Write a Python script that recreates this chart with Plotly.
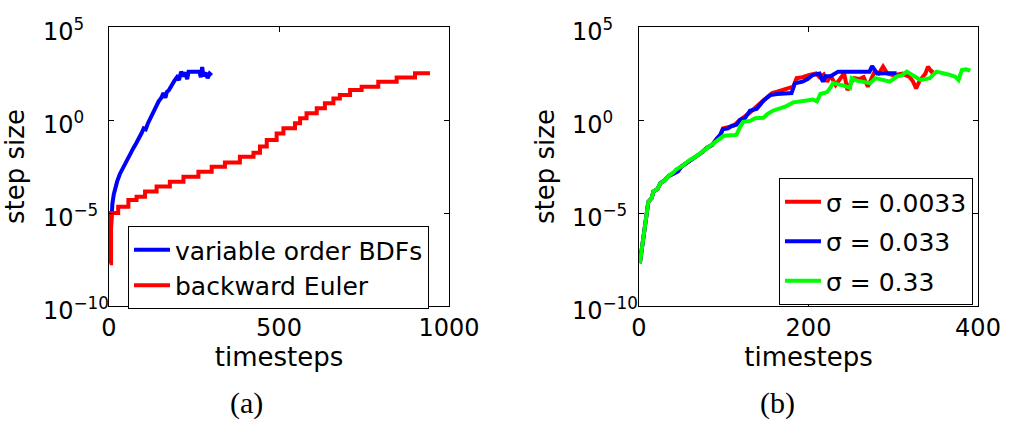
import plotly.graph_objects as go

# ---------------- data ----------------
# (a) variable order BDFs: timestep index and log10(step size)
bdf_steps = [0, 3, 6, 10, 14, 18, 24, 32, 40, 48, 56, 64, 72, 80, 88, 96, 102, 108,
             114, 122, 130, 138, 146, 154, 160, 166, 170, 176, 184, 192, 200, 206,
             212, 218, 224, 230, 234, 250, 266, 270, 274, 278, 284, 290, 296, 302]
bdf_log10_h = [-7.7, -6.5, -5.0, -4.5, -4.0, -3.7, -3.3, -2.9, -2.6, -2.3, -2.05, -1.8,
               -1.5, -1.25, -1.0, -0.7, -0.45, -0.5, -0.2, 0.1, 0.5, 0.7, 1.0, 1.2,
               1.45, 1.2, 1.5, 1.6, 1.9, 2.1, 2.3, 2.15, 2.6, 2.35, 2.55, 2.2, 2.6,
               2.6, 2.6, 2.3, 2.85, 2.35, 2.55, 2.25, 2.5, 2.4]

# (a) backward Euler (staircase)
be_steps = [2, 6, 27, 57, 81, 106, 140, 179, 219, 263, 302, 341, 385, 425, 444, 464,
            493, 513, 547, 562, 581, 611, 635, 660, 679, 709, 743, 792, 846, 900, 944]
be_log10_h = [-7.7, -5.0, -4.66, -4.30, -4.12, -3.85, -3.58, -3.32, -3.05, -2.78, -2.51,
              -2.29, -1.97, -1.76, -1.43, -1.08, -0.72, -0.45, -0.18, 0.09, 0.36, 0.63,
              0.90, 1.16, 1.34, 1.61, 1.79, 2.06, 2.29, 2.51, 2.51]

# (b) sigma = 0.0033
s1_steps = [1, 6, 11, 15, 17, 22, 25, 30, 35, 40, 46, 50, 55, 60, 68, 74, 80, 86, 92,
            96, 99, 105, 112, 119, 125, 131, 138, 145, 151, 157, 163, 170, 176, 182,
            186, 193, 201, 209, 213, 218, 222, 226, 232, 237, 242, 246, 250, 254, 260,
            265, 270, 274, 278, 283, 288, 293, 299, 305, 311, 315, 319, 323, 327, 331,
            335, 338, 341, 345, 347]
s1_log10_h = [-7.7, -6.0, -4.4, -4.2, -3.85, -3.7, -3.4, -3.25, -3.0, -2.9, -2.75, -2.5,
              -2.35, -2.15, -1.95, -1.75, -1.5, -1.35, -1.0, -0.8, -0.45, -0.4, -0.3,
              0.0, 0.2, 0.4, 0.7, 1.0, 1.25, 1.45, 1.52, 1.6, 1.7, 1.79, 2.25, 2.3,
              2.42, 2.5, 2.3, 2.45, 2.06, 2.4, 1.88, 2.2, 2.5, 1.61, 2.0, 2.25, 2.2,
              2.3, 1.79, 2.2, 2.6, 2.5, 2.87, 2.5, 2.42, 2.45, 2.5, 2.4, 2.33, 2.1,
              1.7, 2.1, 2.33, 2.5, 2.87, 2.6, 2.7]

# (b) sigma = 0.033
s2_steps = [1, 6, 11, 15, 17, 22, 25, 30, 35, 40, 46, 50, 55, 60, 68, 74, 80, 86, 92,
            96, 99, 105, 110, 115, 119, 125, 131, 139, 147, 155, 163, 170, 180, 184,
            193, 199, 205, 213, 217, 220, 226, 235, 250, 266, 272, 275, 281, 292, 304]
s2_log10_h = [-7.7, -6.0, -4.4, -4.2, -3.85, -3.7, -3.4, -3.25, -3.0, -2.9, -2.75, -2.5,
              -2.35, -2.15, -1.95, -1.75, -1.5, -1.35, -1.0, -0.8, -0.5, -0.45, -0.3,
              -0.25, 0.0, 0.1, 0.5, 0.6, 1.05, 1.34, 1.4, 1.4, 1.45, 1.98, 2.06, 2.2,
              2.42, 2.5, 2.06, 2.35, 2.35, 2.6, 2.6, 2.6, 2.6, 2.9, 2.5, 2.52, 2.52]

# (b) sigma = 0.33
s3_steps = [1, 6, 11, 15, 17, 22, 25, 30, 35, 40, 44, 50, 55, 60, 66, 72, 78, 84, 90,
            95, 100, 108, 115, 119, 123, 131, 137, 147, 151, 158, 166, 174, 182, 190,
            198, 205, 210, 214, 222, 226, 229, 236, 242, 249, 251, 258, 265, 273, 279,
            288, 296, 304, 310, 316, 324, 332, 338, 343, 351, 358, 365, 373, 377, 381,
            386, 391]
s3_log10_h = [-7.7, -6.0, -4.4, -4.2, -3.85, -3.7, -3.4, -3.25, -3.0, -2.85, -2.65, -2.5,
              -2.3, -2.15, -2.0, -1.8, -1.65, -1.45, -1.2, -1.05, -0.85, -0.82, -0.8,
              -0.4, -0.1, -0.05, 0.1, 0.12, 0.3, 0.5, 0.6, 0.75, 0.95, 0.98, 1.05, 1.1,
              1.0, 1.4, 1.5, 1.75, 1.98, 1.9, 1.85, 1.72, 2.25, 2.1, 2.05, 1.98, 2.25,
              2.15, 2.06, 2.33, 2.4, 2.6, 2.35, 2.15, 2.2, 2.25, 2.6, 2.55, 2.45, 2.33,
              2.15, 2.69, 2.72, 2.65]

y_tick_exponents = [5, 0, -5, -10]
y_tick_labels = ["10<sup>5</sup>", "10<sup>0</sup>", "10<sup>\u22125</sup>", "10<sup>\u221210</sup>"]
xa_ticks = [0, 500, 1000]
xb_ticks = [0, 200, 400]

# ---------------- figure ----------------
W, H = 1013, 421
SANS = "DejaVu Sans, Liberation Sans, Arial, sans-serif"
SERIF = "Liberation Serif, Times New Roman, serif"
LW = 4


def px_x(p):
    return p / W


def px_y(p):
    return 1 - p / H


def to_h(vals):
    return [10 ** v for v in vals]


fig = go.Figure()
fig.add_trace(go.Scatter(x=bdf_steps, y=to_h(bdf_log10_h), mode="lines",
                         name="variable order BDFs", line=dict(color="#0000ff", width=LW),
                         xaxis="x", yaxis="y", legend="legend"))
fig.add_trace(go.Scatter(x=be_steps, y=to_h(be_log10_h), mode="lines", line_shape="hv",
                         name="backward Euler", line=dict(color="#ff0000", width=LW),
                         xaxis="x", yaxis="y", legend="legend"))
fig.add_trace(go.Scatter(x=s1_steps, y=to_h(s1_log10_h), mode="lines",
                         name="\u03c3 = 0.0033", line=dict(color="#ff0000", width=LW),
                         xaxis="x2", yaxis="y2", legend="legend2", legendgroup="g1"))
fig.add_trace(go.Scatter(x=s2_steps, y=to_h(s2_log10_h), mode="lines",
                         name="\u03c3 = 0.033", line=dict(color="#0000ff", width=LW),
                         xaxis="x2", yaxis="y2", legend="legend2", legendgroup="g2"))
fig.add_trace(go.Scatter(x=s3_steps, y=to_h(s3_log10_h), mode="lines",
                         name="\u03c3 = 0.33", line=dict(color="#00ff00", width=LW),
                         xaxis="x2", yaxis="y2", legend="legend2", legendgroup="g3"))

ydom = [px_y(306), px_y(27)]
common_x = dict(showline=True, linecolor="black", linewidth=1, mirror="ticks",
                ticks="inside", ticklen=5, tickwidth=1, tickcolor="black",
                showgrid=False, zeroline=False, automargin=False,
                tickfont=dict(family=SANS, size=24, color="black"))
common_y = dict(type="log", range=[-10, 5], showline=True, linecolor="black", linewidth=1,
                mirror="ticks", ticks="inside", ticklen=5, tickwidth=1, tickcolor="black",
                showgrid=False, zeroline=False, showticklabels=False, automargin=False,
                tickvals=[10 ** e for e in y_tick_exponents], domain=ydom)

title_font = dict(family=SANS, size=26, color="black")
fig.update_layout(
    template="none",
    width=W, height=H, margin=dict(l=0, r=0, t=0, b=0, autoexpand=False),
    paper_bgcolor="white", plot_bgcolor="white", showlegend=True,
    xaxis=dict(domain=[px_x(109), px_x(449)], range=[0, 1000], tickvals=xa_ticks,
               anchor="y", title=dict(text="timesteps", font=title_font, standoff=2),
               **common_x),
    yaxis=dict(anchor="x", title=dict(text="step size", font=title_font, standoff=75),
               **common_y),
    xaxis2=dict(domain=[px_x(639), px_x(978)], range=[0, 400], tickvals=xb_ticks,
                anchor="y2", title=dict(text="timesteps", font=title_font, standoff=2),
                **common_x),
    yaxis2=dict(anchor="x2", title=dict(text="step size", font=title_font, standoff=75),
                **common_y),
    legend=dict(x=px_x(128), y=px_y(226), xanchor="left", yanchor="top",
                bgcolor="white", bordercolor="black", borderwidth=1,
                font=dict(family=SANS, size=25, color="black"), itemwidth=36,
                tracegroupgap=0),
    legend2=dict(x=px_x(779), y=px_y(178), xanchor="left", yanchor="top",
                 bgcolor="white", bordercolor="black", borderwidth=1,
                 font=dict(family=SANS, size=25, color="black"), itemwidth=36,
                 tracegroupgap=4),
)

annotations = []
for yref, left in (("y", 41), ("y2", 570)):
    for e, lab in zip(y_tick_exponents, y_tick_labels):
        annotations.append(dict(text=lab, xref="paper", yref=yref, x=px_x(left), y=e,
                                xanchor="left", yanchor="middle", yshift=-3, showarrow=False,
                                font=dict(family=SANS, size=24, color="black")))
for lab, cx in (("(a)", 246), ("(b)", 777)):
    annotations.append(dict(text=lab, xref="paper", yref="paper", x=px_x(cx), y=0,
                            xanchor="center", yanchor="bottom", borderpad=0, showarrow=False,
                            font=dict(family=SERIF, size=30, color="black")))
fig.update_layout(annotations=annotations)

fig.write_html("out.html")
